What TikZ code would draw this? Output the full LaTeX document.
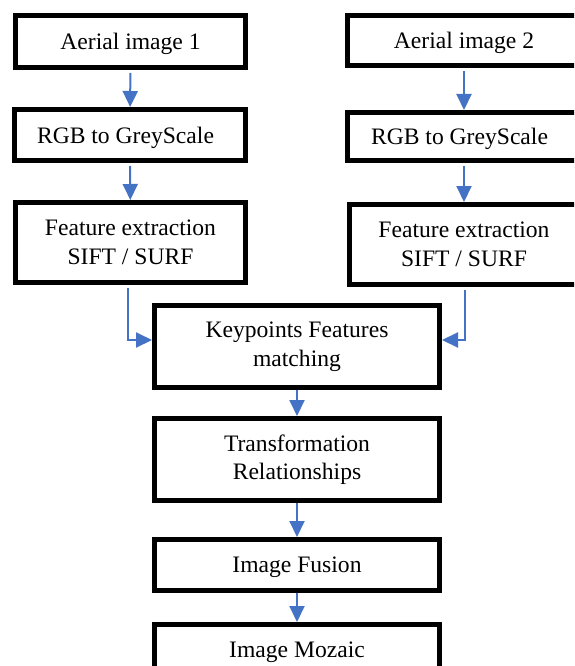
\documentclass[tikz,border=0pt]{standalone}
\usepackage{fontspec}
\setmainfont{Liberation Serif}
\usetikzlibrary{arrows.meta}
\definecolor{arrowblue}{HTML}{4472C4}
\begin{document}
\begin{tikzpicture}[x=1pt,y=-1pt,
  box/.style={draw=black,line width=5pt,fill=white,inner sep=0pt,align=center,
    font=\fontsize{23.6}{28.5}\selectfont},
  onebox/.style={box,text depth=0pt},
  flow/.style={draw=arrowblue,line width=2pt,-{Triangle[length=16pt,width=15pt]}}]
\useasboundingbox (0,0) rectangle (574,666);
\clip (0,0) rectangle (574,666);
\fill[white] (0,0) rectangle (574,666);
% left column
\node[onebox,minimum width=230pt,minimum height=52pt] (A1) at (130.5,41.5) {Aerial image 1};
\node[onebox,minimum width=231pt,minimum height=51pt] (G1) at (130,135) {RGB to GreyScale\hspace{9pt}};
\node[box,minimum width=230pt,minimum height=80pt] (F1) at (130.5,242.5) {Feature extraction\\SIFT / SURF};
% right column
\node[onebox,minimum width=233pt,minimum height=50pt] (A2) at (464,40.5) {Aerial image 2};
\node[onebox,minimum width=233pt,minimum height=48pt] (G2) at (464,136.5) {RGB to GreyScale\hspace{9pt}};
\node[box,minimum width=229pt,minimum height=80pt] (F2) at (464,244.5) {Feature extraction\\SIFT / SURF};
% center column
\node[box,minimum width=285pt,minimum height=82pt] (K) at (297,346.5) {Keypoints Features\\matching};
\node[box,minimum width=285pt,minimum height=82pt] (T) at (297,459.5) {Transformation\\Relationships};
\node[onebox,minimum width=285pt,minimum height=51pt] (IF) at (297,565) {Image Fusion};
\node[onebox,minimum width=285pt,minimum height=51pt] (IM) at (297,650) {Image Mozaic};
% connectors
\draw[flow,shorten <=3pt] (A1) -- (G1);
\draw[flow,shorten <=3pt] (G1) -- (F1);
\draw[flow,shorten <=3pt] (A2) -- (G2);
\draw[flow,shorten <=3pt] (G2) -- (F2);
\draw[flow,shorten <=3pt] ([xshift=-2.5pt]F1.south) |- ([yshift=6.5pt]K.west);
\draw[flow,shorten <=3pt] ([xshift=1pt]F2.south) |- ([yshift=6.5pt]K.east);
\draw[flow] (K) -- (T);
\draw[flow] (T) -- (IF);
\draw[flow] (IF) -- (IM);
\end{tikzpicture}
\end{document}
